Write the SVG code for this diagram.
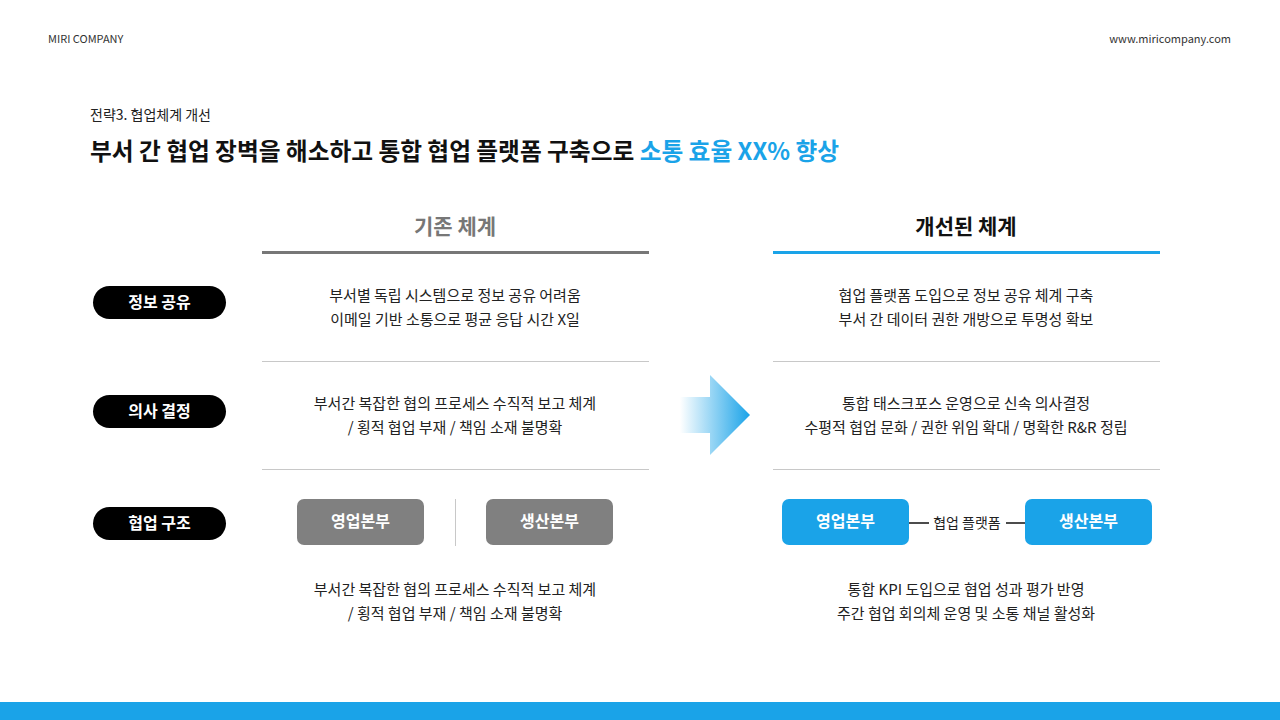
<svg xmlns="http://www.w3.org/2000/svg" width="1280" height="720" viewBox="0 0 1280 720">
<style>
text{font-family:"Noto Sans CJK KR","Noto Sans",sans-serif}
.body{font-size:15px;fill:#222;text-anchor:middle}
.pill{fill:#000}
.pt{font-size:16px;font-weight:bold;fill:#fff;text-anchor:middle}
.sep{stroke:#c8c8c8;stroke-width:1}
</style>
<defs>
<linearGradient id="ag" x1="680" y1="0" x2="750" y2="0" gradientUnits="userSpaceOnUse">
<stop offset="0" stop-color="#1aa3e8" stop-opacity="0"/>
<stop offset="1" stop-color="#1aa3e8"/>
</linearGradient>
</defs>
<rect width="1280" height="720" fill="#fff"/>
<text x="48" y="43" font-size="11" fill="#333">MIRI COMPANY</text>
<text x="1231" y="43" font-size="11" fill="#333" text-anchor="end">www.miricompany.com</text>
<text x="90" y="120" font-size="14" fill="#222">전략3. 협업체계 개선</text>
<text x="90" y="160" font-size="23.7" font-weight="bold" fill="#111">부서 간 협업 장벽을 해소하고 통합 협업 플랫폼 구축으로 <tspan fill="#1aa3e8">소통 효율 XX% 향상</tspan></text>
<text x="455" y="234" font-size="21" font-weight="bold" fill="#777" text-anchor="middle">기존 체계</text>
<rect x="262" y="251" width="387" height="3" fill="#777"/>
<text x="966" y="234" font-size="21" font-weight="bold" fill="#111" text-anchor="middle">개선된 체계</text>
<rect x="773" y="251" width="387" height="3" fill="#1aa3e8"/>
<g id="label-info"><rect class="pill" x="93" y="286" width="133" height="33" rx="16.5"/><text class="pt" x="159.5" y="308">정보 공유</text></g>
<g id="label-decision"><rect class="pill" x="93" y="395" width="133" height="33" rx="16.5"/><text class="pt" x="159.5" y="417">의사 결정</text></g>
<g id="label-collab"><rect class="pill" x="93" y="507" width="133" height="33" rx="16.5"/><text class="pt" x="159.5" y="529">협업 구조</text></g>
<line class="sep" x1="262" y1="361.5" x2="649" y2="361.5"/>
<line class="sep" x1="262" y1="469.5" x2="649" y2="469.5"/>
<line class="sep" x1="773" y1="361.5" x2="1160" y2="361.5"/>
<line class="sep" x1="773" y1="469.5" x2="1160" y2="469.5"/>
<text class="body" x="455" y="301">부서별 독립 시스템으로 정보 공유 어려움</text>
<text class="body" x="455" y="325">이메일 기반 소통으로 평균 응답 시간 X일</text>
<text class="body" x="455" y="409">부서간 복잡한 협의 프로세스 수직적 보고 체계</text>
<text class="body" x="455" y="433">/ 횡적 협업 부재 / 책임 소재 불명확</text>
<text class="body" x="455" y="595">부서간 복잡한 협의 프로세스 수직적 보고 체계</text>
<text class="body" x="455" y="619">/ 횡적 협업 부재 / 책임 소재 불명확</text>
<text class="body" x="966" y="301">협업 플랫폼 도입으로 정보 공유 체계 구축</text>
<text class="body" x="966" y="325">부서 간 데이터 권한 개방으로 투명성 확보</text>
<text class="body" x="966" y="409">통합 태스크포스 운영으로 신속 의사결정</text>
<text class="body" x="966" y="433">수평적 협업 문화 / 권한 위임 확대 / 명확한 R&amp;R 정립</text>
<text class="body" x="966" y="595">통합 KPI 도입으로 협업 성과 평가 반영</text>
<text class="body" x="966" y="619">주간 협업 회의체 운영 및 소통 채널 활성화</text>
<g id="old-sales"><rect x="297" y="499" width="127" height="46" rx="7" fill="#808080"/><text class="pt" x="360.5" y="527">영업본부</text></g>
<g id="old-prod"><rect x="486" y="499" width="127" height="46" rx="7" fill="#808080"/><text class="pt" x="549.5" y="527">생산본부</text></g>
<line x1="455.5" y1="499" x2="455.5" y2="546" stroke="#c8c8c8"/>
<g id="new-sales"><rect x="782" y="499" width="127" height="46" rx="7" fill="#1aa3e8"/><text class="pt" x="845.5" y="527">영업본부</text></g>
<g id="new-prod"><rect x="1025" y="499" width="127" height="46" rx="7" fill="#1aa3e8"/><text class="pt" x="1088.5" y="527">생산본부</text></g>
<g id="connectors">
<line x1="909" y1="523" x2="929" y2="523" stroke="#111" stroke-width="1.5"/>
<line x1="1006" y1="523" x2="1025" y2="523" stroke="#111" stroke-width="1.5"/>
<text x="967" y="528" font-size="14" fill="#222" text-anchor="middle">협업 플랫폼</text>
<path d="M680 397 H710 V375 L750 415 L710 455 V433 H680 Z" fill="url(#ag)"/>
</g>
<rect x="0" y="702" width="1280" height="18" fill="#1aa3e8"/>
</svg>
